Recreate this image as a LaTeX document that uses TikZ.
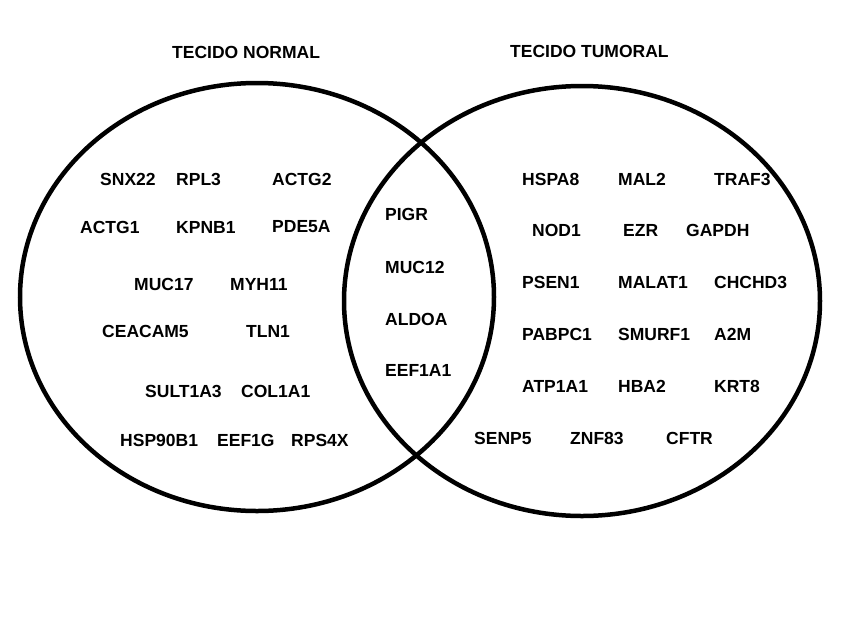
\documentclass[tikz,border=0pt]{standalone}
\usepackage{fontspec}
\setmainfont{Liberation Sans}
\tikzset{
  ring/.style={line width=4.5pt},
  gene/.style={anchor=west, inner sep=0pt, font=\fontsize{17.5}{20}\selectfont\bfseries},
  title/.style={gene}
}
\begin{document}
\begin{tikzpicture}[x=1pt,y=-1pt]
    \useasboundingbox (0,0) rectangle (841,627);

    \draw[ring] (257,297) ellipse [x radius=237pt, y radius=214pt];
    \draw[ring] (582,301) ellipse [x radius=238pt, y radius=215pt];

    \node[title] (normal) at (172,52) {TECIDO NORMAL};
    \node[title] (tumoral) at (510,51) {TECIDO TUMORAL};

    % tecido normal
    \node[gene] (snx) at (100,179) {SNX22};
    \node[gene] (rpl) at (176,179) {RPL3};
    \node[gene] (actgb) at (272,179) {ACTG2};

    \node[gene] (actga) at (80,227) {ACTG1};
    \node[gene] (kpnb) at (176,227) {KPNB1};
    \node[gene] (pde) at (272,227) {PDE5A};

    \node[gene] (muca) at (134,284) {MUC17};
    \node[gene] (myh) at (230,284) {MYH11};

    \node[gene] (cea) at (102,331) {CEACAM5};
    \node[gene] (tln) at (246,331) {TLN1};

    \node[gene] (sult) at (145,391) {SULT1A3};
    \node[gene] (col) at (241,391) {COL1A1};

    \node[gene] (hsp) at (120,440) {HSP90B1};
    \node[gene] (eefg) at (217,440) {EEF1G};
    \node[gene] (rps) at (291,440) {RPS4X};

    % comuns
    \node[gene] (pigr) at (385,214) {PIGR};
    \node[gene] (mucb) at (385,267) {MUC12};
    \node[gene] (aldoa) at (385,319) {ALDOA};
    \node[gene] (eefa) at (385,370) {EEF1A1};

    % tecido tumoral
    \node[gene] (hspa) at (522,179) {HSPA8};
    \node[gene] (mal) at (618,179) {MAL2};
    \node[gene] (traf) at (714,179) {TRAF3};

    \node[gene] (nod) at (532,230) {NOD1};
    \node[gene] (ezr) at (623,230) {EZR};
    \node[gene] (gapdh) at (686,230) {GAPDH};

    \node[gene] (psen) at (522,282) {PSEN1};
    \node[gene] (malat) at (618,282) {MALAT1};
    \node[gene] (chchd) at (714,282) {CHCHD3};

    \node[gene] (pabpc) at (522,334) {PABPC1};
    \node[gene] (smurf) at (618,334) {SMURF1};
    \node[gene] (atwom) at (714,334) {A2M};

    \node[gene] (atp) at (522,386) {ATP1A1};
    \node[gene] (hba) at (618,386) {HBA2};
    \node[gene] (krt) at (714,386) {KRT8};

    \node[gene] (senp) at (474,438) {SENP5};
    \node[gene] (znf) at (570,438) {ZNF83};
    \node[gene] (cftr) at (666,438) {CFTR};
\end{tikzpicture}
\end{document}
